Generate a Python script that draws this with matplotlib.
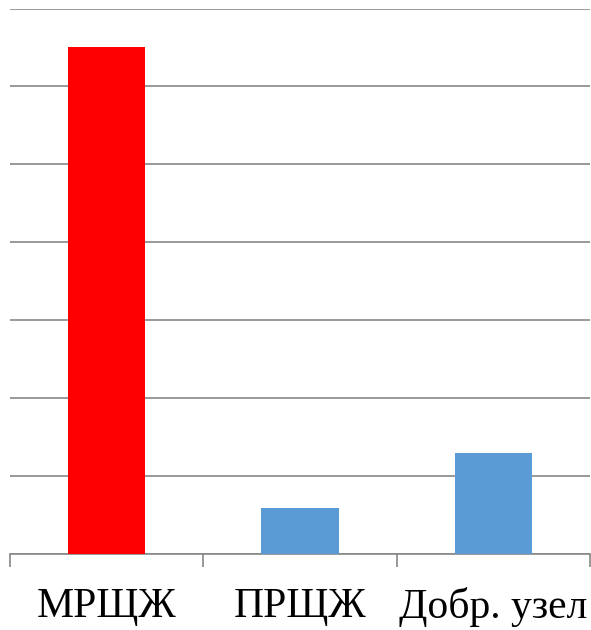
import matplotlib
matplotlib.use("Agg")
import matplotlib.pyplot as plt
import numpy as np

matplotlib.rcParams.update({
    "font.family": ["Liberation Serif", "DejaVu Serif"],
    "font.size": 30,
})

categories = ["МРЩЖ", "ПРЩЖ", "Добр. узел"]
values = [65.0, 5.9, 12.9]
colors = ["#FF0000", "#5B9BD5", "#5B9BD5"]

fig = plt.figure(figsize=(5.91, 6.30), dpi=100)
ax = fig.add_axes([10 / 591, 76 / 630, 580 / 591, 545.5 / 630])

x = np.arange(len(categories))
ax.bar(x, values, width=0.4, color=colors, zorder=3)

ax.set_xlim(-0.5, len(categories) - 0.5)
ax.set_ylim(0, 70)
ax.set_yticks(np.arange(0, 71, 10))
ax.yaxis.grid(True, color="#888888", linewidth=1.2, zorder=0)
ax.tick_params(axis="y", left=False, labelleft=False)

ax.set_xticks(x)
ax.set_xticklabels(categories)
ax.set_xticks(np.arange(-0.5, len(categories), 1.0), minor=True)
ax.tick_params(axis="x", which="major", length=0, pad=24)
ax.tick_params(axis="x", which="minor", length=9, width=1.2, color="#888888",
               direction="out")

for side in ["top", "left", "right"]:
    ax.spines[side].set_visible(False)
ax.spines["bottom"].set_color("#888888")
ax.spines["bottom"].set_linewidth(1.2)

fig.savefig("out.png", dpi=100)
